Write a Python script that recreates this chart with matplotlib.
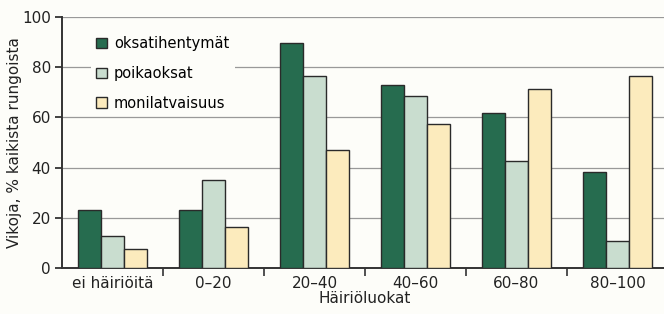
import numpy as np
import matplotlib.pyplot as plt

categories = ["ei häiriöitä", "0–20", "20–40", "40–60", "60–80", "80–100"]
oksatihentymat = [23.2, 23.0, 89.5, 72.9, 61.8, 38.2]
poikaoksat = [12.7, 35.0, 76.3, 68.5, 42.6, 10.9]
monilatvaisuus = [7.4, 16.5, 47.0, 57.5, 71.3, 76.4]

series = [
    ("oksatihentymät", oksatihentymat, "#266c4f"),
    ("poikaoksat", poikaoksat, "#c9ddcf"),
    ("monilatvaisuus", monilatvaisuus, "#fcebbd"),
]

fig = plt.figure(figsize=(6.64, 3.14), dpi=100, facecolor="#fdfdf9")
ax = fig.add_axes([62 / 664, 46 / 314, 606 / 664, 251 / 314], facecolor="#fdfdf9")

x = np.arange(len(categories))
w = 0.225
for i, (name, vals, col) in enumerate(series):
    ax.bar(x + (i - 1) * w, vals, w, color=col, edgecolor="#2a2a2a",
           linewidth=1.0, label=name, zorder=3)

ax.set_ylim(0, 100)
ax.set_xlim(-0.5, len(categories) - 0.5)
ax.set_yticks([0, 20, 40, 60, 80, 100])
ax.yaxis.grid(True, color="#999999", linewidth=0.9, zorder=0)
ax.set_xticks(x)
ax.set_xticklabels(categories)
ax.set_xticks(np.arange(len(categories)) + 0.5, minor=True)
ax.tick_params(axis="x", which="major", length=0, labelsize=11, pad=6, colors="#222222")
ax.tick_params(axis="x", which="minor", length=6, width=1.2, direction="out", color="#333333")
ax.tick_params(axis="y", length=5, width=1.2, labelsize=11, colors="#222222", pad=3)
for s in ["top", "right"]:
    ax.spines[s].set_visible(False)
for s in ["left", "bottom"]:
    ax.spines[s].set_linewidth(1.4)
    ax.spines[s].set_color("#333333")

ax.set_ylabel("Vikoja, % kaikista rungoista", fontsize=11, color="#222222", labelpad=0)
ax.set_xlabel("Häiriöluokat", fontsize=11, color="#222222", labelpad=0)

leg = ax.legend(loc="upper left", bbox_to_anchor=(0.035, 0.975), fontsize=10.5,
                frameon=True, framealpha=1, facecolor="#fdfdf9", edgecolor="none",
                handlelength=0.7, handleheight=0.7, handletextpad=0.5,
                labelspacing=1.0, borderpad=0.4)
leg.set_zorder(5)

fig.savefig("out.png", dpi=100, facecolor=fig.get_facecolor())
